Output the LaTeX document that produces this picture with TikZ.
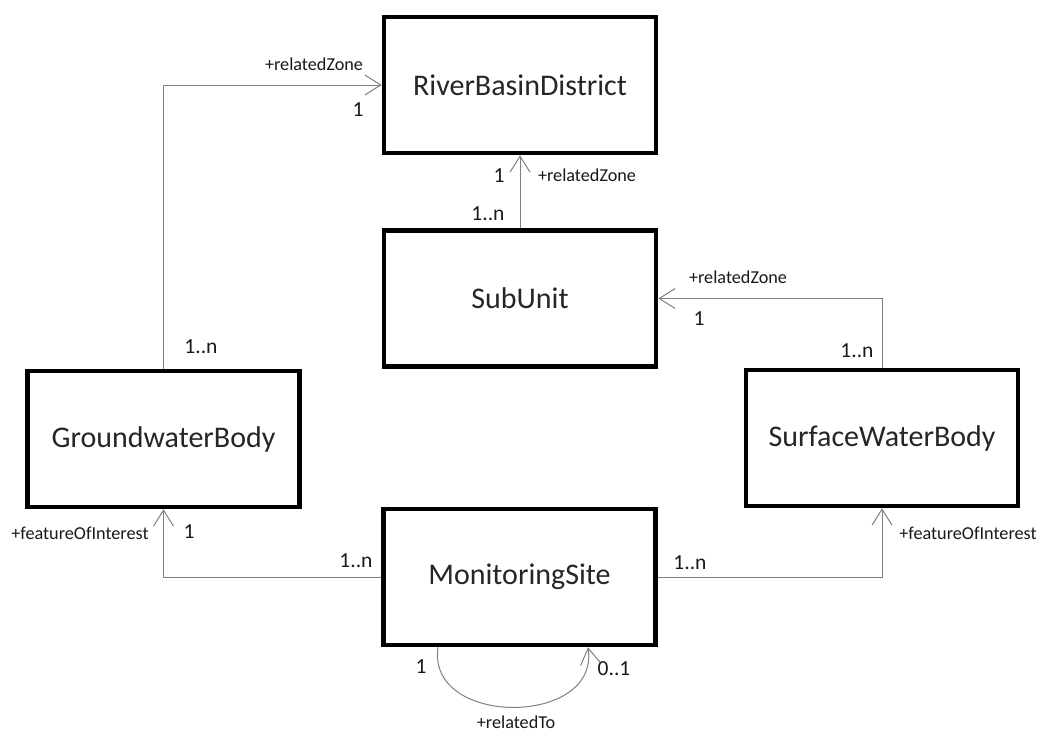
\documentclass[tikz,border=0pt]{standalone}
\usepackage{fontspec}
\setmainfont{Carlito}
\usetikzlibrary{arrows.meta,calc}
\begin{document}
\begin{tikzpicture}[x=1pt,y=-1pt,
  cls/.style={draw=black, line width=4.5pt, minimum width=272pt, minimum height=136pt, inner sep=0pt, font=\fontsize{30}{36}\selectfont, text=black!85},
  assoc/.style={draw=black!50, line width=1pt, -{Straight Barb[length=16pt,width=20pt,line width=1pt]}},
  role/.style={font=\fontsize{18.2}{22}\selectfont, inner sep=0pt, text=black!90},
  mult/.style={font=\fontsize{21.5}{26}\selectfont, inner sep=0pt, text=black!90}]
\useasboundingbox (0,0) rectangle (1040,736);
\fill[white] (0,0) rectangle (1040,736);

\node[cls] (rbd) at (520,85) {RiverBasinDistrict};
\node[cls] (sub) at (520,298.5) {SubUnit};
\node[cls] (gwb) at (163.5,439) {GroundwaterBody};
\node[cls] (swb) at (882,438) {SurfaceWaterBody};
\node[cls] (ms) at (519.5,577) {MonitoringSite};

\draw[assoc] (gwb.north) |- (rbd.west);
\draw[assoc] (sub.north) -- (rbd.south);
\draw[assoc] (swb.north) |- (sub.east);
\draw[assoc] (ms.west) -| (gwb.south);
\draw[assoc] (ms.east) -| (swb.south);
\coordinate (lps) at ([xshift=-81.5pt]ms.south);
\coordinate (lpe) at ([xshift=68.5pt]ms.south);
\draw[assoc] (lps) .. controls ($(lps)+(-12,80)$) and ($(lpe)+(12,80)$) .. (lpe);

\node[role] (l1) at (314,64) {+relatedZone};
\node[mult] (m1) at (358,110) {1};
\node[mult] (m2) at (499,176) {1};
\node[role] (l2) at (587,175) {+relatedZone};
\node[mult] (m3) at (488,214) {1..n};
\node[role] (l3) at (738,277) {+relatedZone};
\node[mult] (m4) at (699,319) {1};
\node[mult] (m5) at (857,351) {1..n};
\node[mult] (m6) at (201,347) {1..n};
\node[role] (l4) at (80,533) {+featureOfInterest};
\node[mult] (m7) at (189,532) {1};
\node[mult] (m8) at (356,561) {1..n};
\node[mult] (m9) at (690,563) {1..n};
\node[role] (l5) at (968,533) {+featureOfInterest};
\node[mult] (m10) at (421,667) {1};
\node[mult] (m11) at (614,669) {0..1};
\node[role] (l6) at (516,722) {+relatedTo};
\end{tikzpicture}
\end{document}
